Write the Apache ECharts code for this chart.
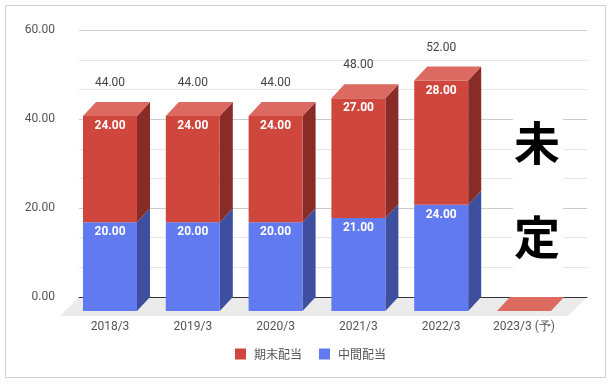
<!DOCTYPE html>
<html><head><meta charset="utf-8">
<script src="https://cdn.jsdelivr.net/npm/echarts@6/dist/echarts.min.js"></script>
<style>html,body{margin:0;padding:0;background:#fff}#c{width:612px;height:384px}</style>
</head><body><div id="c"></div>
<script>
const categories = ['2018/3','2019/3','2020/3','2021/3','2022/3','2023/3 (予)'];
const interim = [20, 20, 20, 21, 24, 0];     // 中間配当
const yearEnd = [24, 24, 24, 27, 28, 0];     // 期末配当
const seriesNames = ['中間配当', '期末配当'];
const legendOrder = ['期末配当', '中間配当'];
const yMin = 0, yMax = 60, yStep = 20;
const noteChars = ['未', '定'];

const DX = 13, DY = -14;
const FONT = 'Roboto, "Noto Sans", sans-serif';
const faces = {
  blue: { front: '#617af0', side: '#3e4fa0', top: '#8a9cf4' },
  red:  { front: '#cf473c', side: '#892b26', top: '#dc6a60' }
};

function makeRender(fc, isTop) {
  return function (params, api) {
    const i = api.value(0), b = api.value(1), t = api.value(2);
    const bw = api.size([1, 0])[0] * 0.652;
    const pB = api.coord([i, b]), pT = api.coord([i, t]);
    const x0 = pB[0] - bw / 2, x1 = pB[0] + bw / 2, yB = pB[1], yT = pT[1];
    const ch = [];
    if (t > b) {
      ch.push({ type: 'polygon', shape: { points: [[x1, yT], [x1 + DX, yT + DY], [x1 + DX, yB + DY], [x1, yB]] }, style: { fill: fc.side } });
      ch.push({ type: 'rect', shape: { x: x0, y: yT, width: bw, height: yB - yT }, style: { fill: fc.front } });
      ch.push({ type: 'text', x: pB[0], y: yT + 10, style: { text: (t - b).toFixed(2), fill: '#fff', font: 'bold 12px ' + FONT, align: 'center', verticalAlign: 'middle' } });
    }
    if (isTop) {
      ch.push({ type: 'polygon', shape: { points: [[x0, yT], [x0 + DX, yT + DY], [x1 + DX, yT + DY], [x1, yT]] }, style: { fill: fc.top } });
      if (t > 0) {
        ch.push({ type: 'text', x: pB[0], y: yT - 33, style: { text: t.toFixed(2), fill: '#444', font: '12px ' + FONT, align: 'center', verticalAlign: 'middle' } });
      }
    }
    return { type: 'group', children: ch };
  };
}

const blueData = interim.map((v, i) => [i, 0, v]);
const redData = interim.map((v, i) => [i, v, v + yearEnd[i]]);

const chart = echarts.init(document.getElementById('c'), null, { renderer: 'canvas' });
chart.setOption({
  animation: false,
  backgroundColor: '#fff',
  grid: [
    { left: 68.6, right: 46.6, top: 45.1, bottom: 73 },
    { left: 79, right: 25, top: 30.3, bottom: 87 }
  ],
  xAxis: [
    { type: 'category', gridIndex: 0, data: categories, boundaryGap: true,
      axisLine: { show: false }, axisTick: { show: false }, splitLine: { show: false },
      axisLabel: { color: '#555', fontSize: 12, fontFamily: FONT, margin: 10, interval: 0 } },
    { type: 'value', gridIndex: 1, min: 0, max: 1, z: 1,
      axisLine: { show: true, lineStyle: { color: '#333', width: 1 } },
      axisTick: { show: false }, axisLabel: { show: false }, splitLine: { show: false } }
  ],
  yAxis: [
    { type: 'value', gridIndex: 0, min: yMin, max: yMax, interval: yStep, show: false },
    { type: 'value', gridIndex: 1, min: yMin, max: yMax, interval: yStep,
      axisLine: { show: false }, axisTick: { show: false },
      axisLabel: { color: '#555', fontSize: 12, fontFamily: FONT, margin: 24, formatter: v => v.toFixed(2) },
      splitLine: { show: true, lineStyle: { color: '#cccccc' } },
      minorTick: { show: false, splitNumber: 3 },
      minorSplitLine: { show: true, lineStyle: { color: '#e6e6e6' } } }
  ],
  legend: {
    data: legendOrder, left: 230, top: 343, icon: 'rect', itemWidth: 11, itemHeight: 11, itemGap: 17,
    textStyle: { color: '#555', fontSize: 12, fontFamily: '"Noto Sans CJK JP", sans-serif', padding: [0, 0, 0, 3] }
  },
  graphic: [
    { type: 'rect', z: 100, shape: { x: 5.5, y: 5.5, width: 600, height: 372 }, style: { fill: 'none', stroke: '#d0d0d0', lineWidth: 1 } },
    { type: 'rect', z: 100, shape: { x: 513, y: 105, width: 50, height: 175 }, style: { fill: '#fff' } },
    { type: 'text', z: 101, x: 537, y: 143, style: { text: noteChars[0], fill: '#000', font: 'bold 46px "Noto Sans CJK JP"', align: 'center', verticalAlign: 'middle' } },
    { type: 'text', z: 101, x: 537, y: 237, style: { text: noteChars[1], fill: '#000', font: 'bold 46px "Noto Sans CJK JP"', align: 'center', verticalAlign: 'middle' } }
  ],
  series: [
    { type: 'custom', name: 'floor', xAxisIndex: 1, yAxisIndex: 1, z: 0, silent: true,
      data: [[0, 0]],
      renderItem: function (params, api) {
        const cs = params.coordSys;
        const yb = cs.y + cs.height;
        return { type: 'polygon', shape: { points: [[cs.x, yb], [cs.x + cs.width, yb], [cs.x + cs.width - 19, yb + 19], [cs.x - 19, yb + 19]] }, style: { fill: '#ebebeb' } };
      } },
    { type: 'custom', name: seriesNames[0], xAxisIndex: 0, yAxisIndex: 0, z: 2,
      itemStyle: { color: faces.blue.front }, encode: { x: 0, y: [1, 2] },
      data: blueData, renderItem: makeRender(faces.blue, false) },
    { type: 'custom', name: seriesNames[1], xAxisIndex: 0, yAxisIndex: 0, z: 3,
      itemStyle: { color: faces.red.front }, encode: { x: 0, y: [1, 2] },
      data: redData, renderItem: makeRender(faces.red, true) }
  ]
});
</script></body></html>
